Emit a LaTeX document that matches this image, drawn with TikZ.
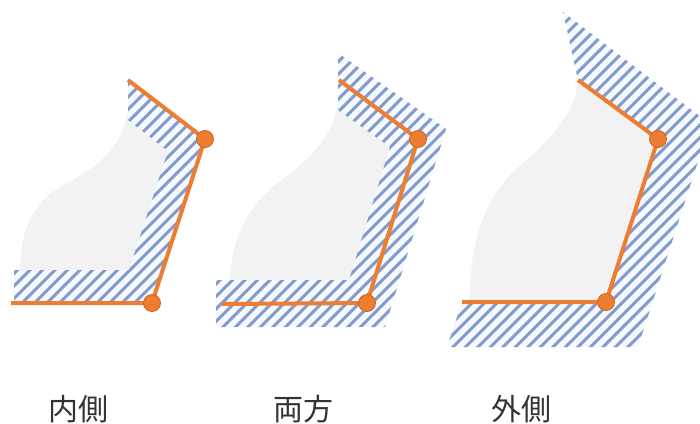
\documentclass[tikz,border=0pt]{standalone}
\usepackage{fontspec}
\newfontfamily\jpfont{Noto Sans CJK JP}
\definecolor{lineorange}{RGB}{237,125,49}
\definecolor{dotedge}{RGB}{205,98,30}
\definecolor{hatchblue}{RGB}{132,156,204}
\definecolor{hatchgap}{RGB}{246,249,255}
\definecolor{areagrey}{RGB}{242,242,242}
\tikzset{
	edgeO/.style={
		draw=lineorange, line width=4pt, line join=round
	},
	dotV/.style={
		circle, fill=lineorange, draw=dotedge, line width=0.8pt,
		inner sep=0pt, minimum size=17pt
	},
	area/.style={fill=areagrey},
	hatchline/.style={draw=hatchblue, line width=3pt},
	caption/.style={
		font={\jpfont\fontsize{30}{34}\selectfont}, text=black!80
	},
}
\newcommand{\stripes}{%
	\fill[hatchgap] (0,0) rectangle (700,423);
	\foreach \c in {0,12.5,...,1300} \draw[hatchline] (\c,0) -- ++(-480,480);
}

\begin{document}
\begin{tikzpicture}[x=1pt, y=-1pt]
\useasboundingbox (0,0) rectangle (700,423);
\clip (0,0) rectangle (700,423);

% corners of the three lines
\coordinate (s1) at (128,80);
\coordinate (a1) at (205,139);
\coordinate (b1) at (152,303);
\coordinate (e1) at (11,303);
\coordinate (s2) at (339,80);
\coordinate (a2) at (418,139);
\coordinate (b2) at (367,303);
\coordinate (e2) at (222,304);
\coordinate (s3) at (578,80);
\coordinate (a3) at (658,139);
\coordinate (b3) at (606,302);
\coordinate (e3) at (462,302);

% grey areas
\fill[area] (128,110) -- (a1) -- (b1) -- (20,303) -- (20,268)
	.. controls (21,222) and (38,200) .. (62,186)
	.. controls (95,168) and (122,150) .. (128,110) -- cycle;
\fill[area] (338,100) -- (a2) -- (b2) -- (230,303) -- (230,280)
	.. controls (232,235) and (250,205) .. (275,185)
	.. controls (310,160) and (335,135) .. (338,100) -- cycle;
\fill[area] (s3) -- (a3) -- (b3) -- (470,302) -- (470,290)
	.. controls (472,245) and (480,205) .. (515,170)
	.. controls (550,140) and (575,115) .. (s3) -- cycle;

% hatched bands
\begin{scope}
	\clip (s1) -- (a1) -- (b1) -- (14,303) -- (14,270) -- (129,270)
		-- (168,151) -- (128,120) -- cycle;
	\stripes
\end{scope}
\begin{scope}
	\clip (338,53) -- (446,129) -- (385,327) -- (216,327) -- (216,280)
		-- (349,280) -- (390,147) -- (338,110) -- cycle;
	\stripes
\end{scope}
\begin{scope}
	\clip (s3) -- (563,12) -- (710,124) -- (638,347) -- (447,347)
		-- (e3) -- (b3) -- (a3) -- cycle;
	\stripes
\end{scope}

% lines and corner dots
\draw[edgeO] (s1) -- (a1) -- (b1) -- (e1);
\draw[edgeO] (s2) -- (a2) -- (b2) -- (e2);
\draw[edgeO] (s3) -- (a3) -- (b3) -- (e3);
\foreach \p in {a1,b1,a2,b2,a3,b3}
	\node[dotV] (dot-\p) at (\p) {};

% captions
\node[caption] (cap1) at (78,409) {内側};
\node[caption] (cap2) at (303,409) {両方};
\node[caption] (cap3) at (521,409) {外側};
\end{tikzpicture}
\end{document}
